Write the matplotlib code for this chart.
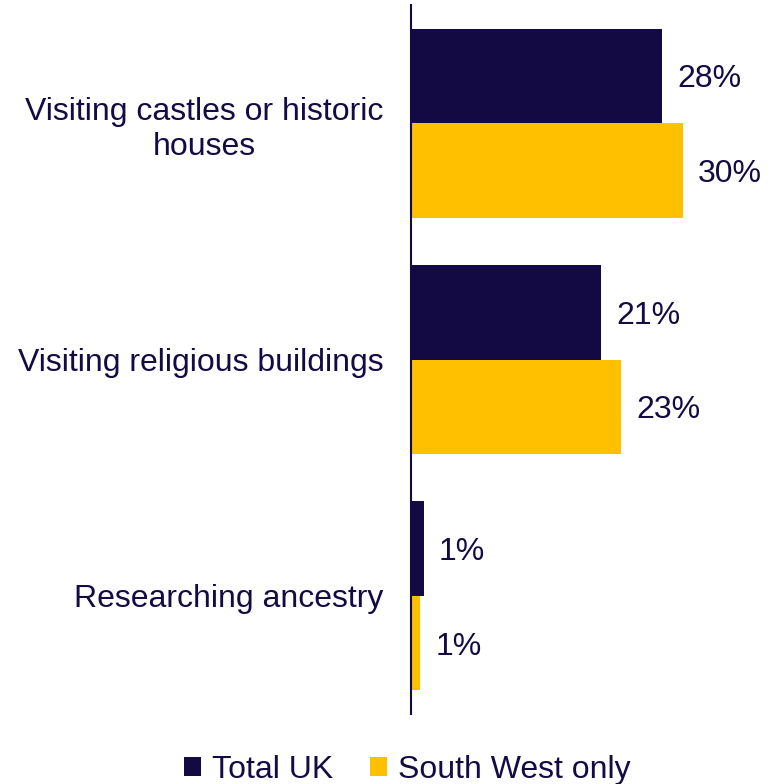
import matplotlib
matplotlib.use("Agg")
import matplotlib.pyplot as plt
import numpy as np

# Heritage activities, share of respondents (%)
categories = ["Visiting castles or historic\nhouses", "Visiting religious buildings", "Researching ancestry"]
total_uk = [27.7, 21.0, 1.4]
south_west = [30.0, 23.2, 1.0]
series_names = ["Total UK", "South West only"]

NAVY = "#130943"
GOLD = "#FFC000"
TEXT = "#140B45"
FS = 23

plt.rcParams["font.family"] = ["Liberation Sans", "DejaVu Sans"]

fig = plt.figure(figsize=(7.77, 7.84), dpi=100)
ax = fig.add_axes([0.529, 0.0893, 0.466, 0.9043])

y = np.arange(len(categories))
h = 0.4
b1 = ax.barh(y - h / 2, total_uk, height=h, color=NAVY, label=series_names[0])
b2 = ax.barh(y + h / 2, south_west, height=h, color=GOLD, label=series_names[1])

for bars, vals in ((b1, total_uk), (b2, south_west)):
    for t in ax.bar_label(bars, labels=[f"{v:.0f}%" for v in vals], padding=11,
                          fontsize=FS, color=TEXT):
        t.set_va("center_baseline")

ax.set_ylim(len(categories) - 0.5, -0.5)
ax.set_xlim(0, 40)
ax.set_yticks(y)
ax.set_yticklabels(categories, fontsize=FS, color=TEXT, multialignment="center",
                   linespacing=1.25)
ax.tick_params(axis="y", length=0, pad=20)
ax.set_xticks([])
for s in ("top", "right", "bottom"):
    ax.spines[s].set_visible(False)
ax.spines["left"].set_color(TEXT)
ax.spines["left"].set_linewidth(1.5)

fig.legend(handles=[b1, b2], labels=series_names, loc="center",
           bbox_to_anchor=(0.524, 0.018), ncol=2, frameon=False,
           fontsize=FS, handlelength=0.55, handleheight=0.55,
           handletextpad=0.33, columnspacing=1.15, labelcolor=TEXT,
           borderpad=0, borderaxespad=0)

fig.savefig("out.png", dpi=100)
